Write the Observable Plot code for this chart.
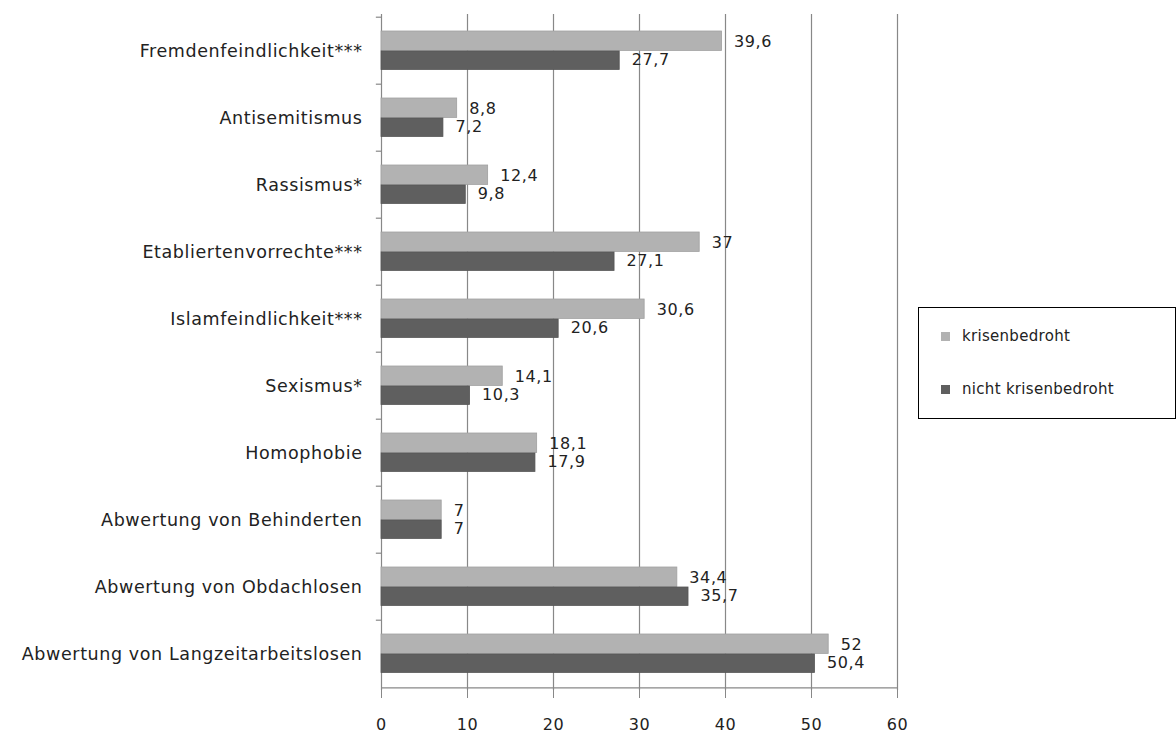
<!DOCTYPE html>
<html><head><meta charset="utf-8">
<script src="https://cdn.jsdelivr.net/npm/d3@7"></script>
<script src="https://cdn.jsdelivr.net/npm/@observablehq/plot@0.6"></script>
<style>
body{margin:0;background:#fff;font-family:"DejaVu Sans",sans-serif;}
#wrap{position:relative;width:1176px;height:740px;}
#legend{position:absolute;left:918px;top:307px;width:256px;height:110px;border:1px solid #000;background:#fff;font-size:15px;color:#222;letter-spacing:0.3px;}
.item{position:absolute;left:22px;display:flex;align-items:center;}
.sw{width:9px;height:9px;margin-right:12px;}
</style></head><body>
<div id="wrap"><div id="chart"></div>
<div id="legend">
<div class="item" style="top:19px"><div class="sw" style="background:#b2b2b2"></div>krisenbedroht</div>
<div class="item" style="top:72px"><div class="sw" style="background:#5f5f5f"></div>nicht krisenbedroht</div>
</div></div>
<script>
const categories = ["Fremdenfeindlichkeit***","Antisemitismus","Rassismus*","Etabliertenvorrechte***","Islamfeindlichkeit***","Sexismus*","Homophobie","Abwertung von Behinderten","Abwertung von Obdachlosen","Abwertung von Langzeitarbeitslosen"];
const krisenbedroht = [39.6,8.8,12.4,37,30.6,14.1,18.1,7,34.4,52];
const nichtKrisenbedroht = [27.7,7.2,9.8,27.1,20.6,10.3,17.9,7,35.7,50.4];
const xTicks = [0,10,20,30,40,50,60];

const fmt = v => String(v).replace(".", ",");
const light = categories.map((c,i)=>({c, v:krisenbedroht[i]}));
const dark = categories.map((c,i)=>({c, v:nichtKrisenbedroht[i]}));
const step = 676/categories.length;

const chart = Plot.plot({
  width:1176, height:740,
  marginLeft:381, marginRight:279, marginTop:14, marginBottom:50,
  style:{fontFamily:"'DejaVu Sans',sans-serif", fontSize:"15px", color:"#222", letterSpacing:"0.6px"},
  x:{domain:[0,60]},
  y:{domain:categories, padding:0},
  marks:[
    Plot.ruleX(xTicks.slice(1), {stroke:"#888", strokeWidth:1.2}),
    Plot.ruleX([0], {stroke:"#888", strokeWidth:1.2}),
    Plot.barX(light, {x:"v", y:"c", fill:"#b2b2b2", stroke:"#a0a0a0", strokeWidth:0.8, insetTop:14, insetBottom:step-34}),
    Plot.barX(dark, {x:"v", y:"c", fill:"#5f5f5f", stroke:"#555", strokeWidth:0.8, insetTop:34, insetBottom:step-53}),
    Plot.text(light, {x:"v", y:"c", text:d=>fmt(d.v), dx:12, dy:-9, textAnchor:"start", fill:"#222", fontSize:16}),
    Plot.text(dark, {x:"v", y:"c", text:d=>fmt(d.v), dx:12, dy:9, textAnchor:"start", fill:"#222", fontSize:16}),
    Plot.ruleY(categories, {y:d=>d, x1:-0.6, x2:0, dy:-step/2, stroke:"#888", strokeWidth:1.2}),
    Plot.ruleY([categories[categories.length-1]], {y:d=>d, x1:0, x2:60, dy:step/2, stroke:"#888", strokeWidth:1.2}),
    Plot.axisY({tickSize:0, tickPadding:19, label:null, fontSize:17.5}),
    Plot.axisX({ticks:xTicks, tickSize:8, tickPadding:20, label:null, stroke:"#888", fontSize:16, tickFormat:d=>String(d)})
  ]
});
document.getElementById("chart").appendChild(chart);
</script></body></html>
